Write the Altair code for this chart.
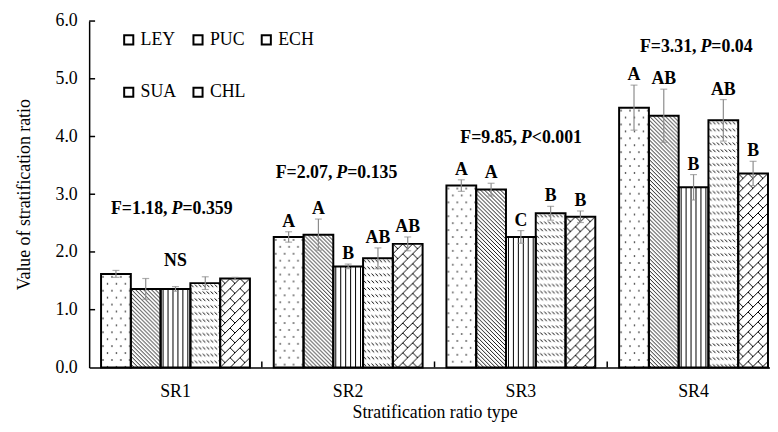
import altair as alt
import pandas as pd
from urllib.parse import quote

# ---------------- data ----------------
groups = ["SR1", "SR2", "SR3", "SR4"]
series = ["LEY", "PUC", "ECH", "SUA", "CHL"]

values_LEY = [1.62, 2.26, 3.15, 4.50]
values_PUC = [1.36, 2.30, 3.08, 4.36]
values_ECH = [1.36, 1.75, 2.26, 3.12]
values_SUA = [1.46, 1.89, 2.67, 4.28]
values_CHL = [1.54, 2.14, 2.61, 3.36]

errors_LEY = [0.06, 0.09, 0.10, 0.39]
errors_PUC = [0.18, 0.27, 0.11, 0.46]
errors_ECH = [0.04, 0.04, 0.11, 0.22]
errors_SUA = [0.11, 0.18, 0.12, 0.36]
errors_CHL = [0.02, 0.12, 0.10, 0.21]

letters_LEY = ["", "A", "A", "A"]
letters_PUC = ["", "A", "A", "AB"]
letters_ECH = ["", "B", "C", "B"]
letters_SUA = ["", "AB", "B", "AB"]
letters_CHL = ["", "AB", "B", "B"]

stat_f = ["F=1.18,", "F=2.07,", "F=9.85,", "F=3.31,"]
stat_p = ["=0.359", "=0.135", "<0.001", "=0.04"]
stat_y = [2.75, 3.37, 3.97, 5.55]

ns_group = ["SR1"]
ns_text = ["NS"]
ns_y = [1.85]

y_tick_values = [0, 1, 2, 3, 4, 5, 6]

# ---------------- styles ----------------
FONT = "Liberation Serif"
W, H = 698, 350
STAT_NUDGE = [-4, -12, 0, 7]   # horizontal nudge of the F/P annotation per group (px)


def pattern_uri(w, h, body):
    svg = ("<svg xmlns='http://www.w3.org/2000/svg' width='100%' height='100%'>"
           f"<defs><pattern id='p' x='0' y='0' width='{w}' height='{h}' patternUnits='userSpaceOnUse'>{body}</pattern></defs>"
           "<rect width='100%' height='100%' fill='white'/>"
           "<rect width='100%' height='100%' fill='url(#p)'/></svg>")
    return "data:image/svg+xml;charset=utf-8," + quote(svg)


patterns = {
    "LEY": pattern_uri(9, 14, "<circle cx='2' cy='3' r='0.8' fill='black'/><circle cx='6.5' cy='10' r='0.8' fill='black'/>"),
    "PUC": pattern_uri(4, 4, "<path d='M0,0L4,4M-1,3L1,5M3,-1L5,1' stroke='black' stroke-width='0.9'/>"),
    "ECH": pattern_uri(5, 5, "<path d='M2.5,0L2.5,5' stroke='black' stroke-width='1'/>"),
    "SUA": pattern_uri(4, 7, "<path d='M0.5,1.5L3.2,4' stroke='black' stroke-width='1'/>"),
    "CHL": pattern_uri(10, 10, "<path d='M0,10L10,0M-1,1L1,-1M9,11L11,9M0,0L5,5' stroke='black' stroke-width='1'/>"),
}

vals = {"LEY": values_LEY, "PUC": values_PUC, "ECH": values_ECH, "SUA": values_SUA, "CHL": values_CHL}
errs = {"LEY": errors_LEY, "PUC": errors_PUC, "ECH": errors_ECH, "SUA": errors_SUA, "CHL": errors_CHL}
lets = {"LEY": letters_LEY, "PUC": letters_PUC, "ECH": letters_ECH, "SUA": letters_SUA, "CHL": letters_CHL}

rows = []
for s in series:
    for i, g in enumerate(groups):
        v, e = vals[s][i], errs[s][i]
        rows.append({"group": g, "series": s, "value": v, "lo": v - e, "hi": v + e,
                     "letter": lets[s][i], "url": patterns[s]})
df = pd.DataFrame(rows)

stat_df = pd.DataFrame({"group": groups, "f": stat_f, "p": stat_p, "y": stat_y})
ns_df = pd.DataFrame({"group": ns_group, "t": ns_text, "y": ns_y})
ytick_df = pd.DataFrame({"t": y_tick_values[1:]})
xtick_df = pd.DataFrame({"group": groups[1:]})

YTITLE = "Value of stratification ratio"

x_enc = alt.X("group:N", sort=groups,
              scale=alt.Scale(paddingInner=0, paddingOuter=0),
              axis=alt.Axis(title="Stratification ratio type", labelAngle=0, ticks=False,
                            domainColor="black", domainWidth=1.5,
                            labelFont=FONT, labelFontSize=18, labelColor="black", labelPadding=15,
                            titleFont=FONT, titleFontSize=18, titleColor="black",
                            titleFontWeight="normal", titlePadding=4))
xo_enc = alt.XOffset("series:N", sort=series,
                     scale=alt.Scale(paddingInner=0, paddingOuter=0.4))
y_scale = alt.Scale(domain=[0, 6], nice=False, zero=True)
y_axis = alt.Axis(values=y_tick_values, format=".1f", ticks=False, grid=False,
                  domainColor="black", domainWidth=1.5,
                  labelFont=FONT, labelFontSize=18, labelColor="black", labelPadding=12,
                  titleFont=FONT, titleFontSize=18, titleColor="black",
                  titleFontWeight="normal", titlePadding=22)

base = alt.Chart(df)
X = alt.X("group:N", sort=groups)
XO = alt.XOffset("series:N", sort=series)

white_bars = base.mark_bar(stroke=None).encode(
    x=x_enc, xOffset=xo_enc,
    y=alt.Y("value:Q", scale=y_scale, axis=y_axis, title=YTITLE),
    fill=alt.Fill("series:N", sort=series,
                  scale=alt.Scale(domain=series, range=["white"] * 5),
                  legend=alt.Legend(title=None, orient="none", legendX=31, legendY=10,
                                    columns=3, direction="horizontal",
                                    symbolType="square", symbolSize=85,
                                    symbolStrokeColor="black", symbolStrokeWidth=2,
                                    symbolFillColor="white",
                                    labelFont=FONT, labelFontSize=18, labelColor="black",
                                    labelOffset=3, columnPadding=12, rowPadding=35)),
)

pattern_imgs = base.mark_image(aspect=False).encode(
    x=X, xOffset=XO, y=alt.Y("value:Q", title=YTITLE), y2=alt.datum(0), url="url:N",
)

outline = base.mark_bar(fillOpacity=0, stroke="black", strokeWidth=2).encode(
    x=X, xOffset=XO, y=alt.Y("value:Q", title=YTITLE),
)

ERR_COLOR = "#8c8c8c"
err_rule = base.mark_rule(color=ERR_COLOR, strokeWidth=1.2).encode(
    x=X, xOffset=XO, y=alt.Y("lo:Q", title=YTITLE), y2="hi:Q",
)
err_cap_hi = base.mark_tick(color=ERR_COLOR, thickness=1.2, size=7, orient="horizontal").encode(
    x=X, xOffset=XO, y=alt.Y("hi:Q", title=YTITLE),
)
err_cap_lo = base.mark_tick(color=ERR_COLOR, thickness=1.2, size=7, orient="horizontal").encode(
    x=X, xOffset=XO, y=alt.Y("lo:Q", title=YTITLE),
)

letter_text = base.mark_text(font=FONT, fontSize=18, fontWeight="bold", color="black",
                             baseline="alphabetic", dy=-5).encode(
    x=X, xOffset=XO, y=alt.Y("hi:Q", title=YTITLE), text="letter:N",
)

ns_layer = alt.Chart(ns_df).mark_text(font=FONT, fontSize=18, fontWeight="bold", color="black",
                                      baseline="middle").encode(
    x=X, y=alt.Y("y:Q", title=YTITLE), text="t:N")

stat_layers = []
for i, g in enumerate(groups):
    sub = alt.Chart(stat_df).transform_filter(alt.datum.group == g)
    n = STAT_NUDGE[i]
    stat_layers += [
        sub.mark_text(font=FONT, fontSize=18, fontWeight="bold", color="black",
                      baseline="middle", align="right", dx=n - 4).encode(
            x=X, y=alt.Y("y:Q", title=YTITLE), text="f:N"),
        sub.mark_text(font=FONT, fontSize=18, fontWeight="bold", fontStyle="italic",
                      color="black", baseline="middle", align="left", dx=n).encode(
            x=X, y=alt.Y("y:Q", title=YTITLE), text=alt.value("P")),
        sub.mark_text(font=FONT, fontSize=18, fontWeight="bold", color="black",
                      baseline="middle", align="left", dx=n + 11).encode(
            x=X, y=alt.Y("y:Q", title=YTITLE), text="p:N"),
    ]

ytick_layer = alt.Chart(ytick_df).mark_rule(color="black", strokeWidth=1.5).encode(
    y=alt.Y("t:Q", title=YTITLE), x=alt.value(0), x2=alt.value(6))
xtick_layer = alt.Chart(xtick_df).mark_rule(color="black", strokeWidth=1.5).encode(
    x=alt.X("group:N", sort=groups, bandPosition=0), y=alt.value(H), y2=alt.value(H - 6))

chart = alt.layer(
    white_bars, pattern_imgs, outline, err_rule, err_cap_hi, err_cap_lo,
    letter_text, ns_layer, *stat_layers, ytick_layer, xtick_layer,
).properties(
    width=W, height=H,
    autosize=alt.AutoSizeParams(type="none"),
    padding={"left": 82, "top": 11, "right": -10, "bottom": 55},
    background="white",
).configure_view(stroke=None)

chart.save("out.html", embed_options={"renderer": "svg", "actions": False})
